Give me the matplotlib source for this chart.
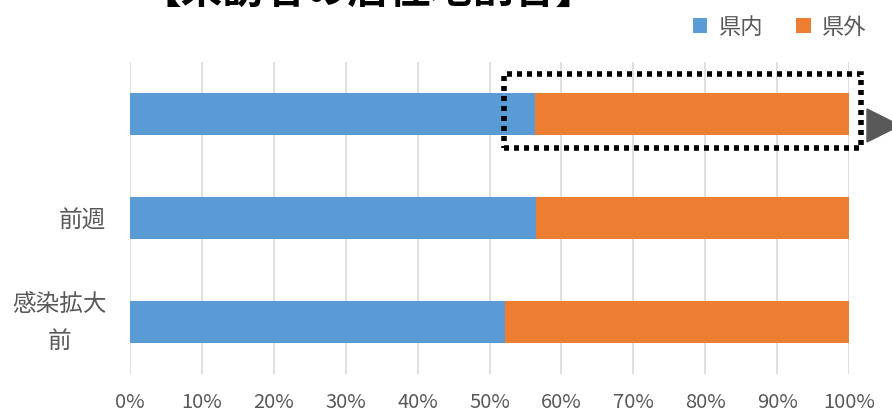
import matplotlib
matplotlib.use('Agg')
import matplotlib.pyplot as plt
import matplotlib.transforms as mtransforms
from matplotlib.patches import Rectangle, Polygon
import numpy as np

plt.rcParams['font.family'] = ['Noto Sans CJK JP', 'DejaVu Sans']

## data
categories = ['', '前週', '感染拡大\n前']
kennai = [56.3, 56.5, 52.2]
kengai = [43.7, 43.5, 47.8]
xticks = [0, 10, 20, 30, 40, 50, 60, 70, 80, 90, 100]

blue = '#5B9BD5'
orange = '#ED7D31'
gray = '#595959'
W, H = 892., 414.

fig = plt.figure(figsize=(8.92, 4.14), dpi=100)
ax = fig.add_axes([130/W, 1 - 375/H, 719/W, 312/H])

y = np.arange(len(categories))
ax.barh(y, kennai, height=0.4, color=blue, label='県内', zorder=3)
ax.barh(y, kengai, left=kennai, height=0.4, color=orange, label='県外', zorder=3)

ax.set_xlim(0, 100)
ax.set_ylim(len(categories) - 0.5, -0.5)
ax.set_xticks(xticks)
ax.set_xticklabels(['%d%%' % t for t in xticks], color=gray, fontsize=14.5)
ax.set_yticks(y)
ax.set_yticklabels(categories, color=gray, fontsize=17, ha='right',
                   multialignment='center', linespacing=1.75)
ax.tick_params(axis='y', length=0, pad=17)
ax.tick_params(axis='x', length=0, pad=12)
ax.grid(axis='x', color='#D9D9D9', linewidth=1.2, zorder=0)
for s in ax.spines.values():
    s.set_visible(False)

# nudge the two-line label up a little
for lab in ax.get_yticklabels():
    if '\n' in lab.get_text():
        lab.set_transform(lab.get_transform() +
                          mtransforms.ScaledTranslation(0, 9/100., fig.dpi_scale_trans))

## dotted highlight box + arrow (figure pixels)
box = Rectangle((504/W, 1 - 149/H), 357/W, 74/H, transform=fig.transFigure,
                fill=False, edgecolor='black', linewidth=4,
                linestyle=(0, (0.9, 0.9)), zorder=5)
fig.patches.append(box)
tri = Polygon([(867/W, 1 - 110/H), (867/W, 1 - 143/H), (900/W, 1 - 126.5/H)],
              closed=True, transform=fig.transFigure, color=gray)
fig.patches.append(tri)

## title (cut off at top)
fig.text(368/W, 0.972, '【来訪者の居住地割合】', fontsize=30, fontweight='bold',
         ha='center', va='bottom')

ax.legend(loc='upper right', bbox_to_anchor=(1.052, 1.215), ncol=2, frameon=False,
          fontsize=16, labelcolor=gray, handlelength=0.65, handleheight=0.65,
          columnspacing=1.5, handletextpad=0.5)

plt.savefig('out.png', dpi=100)
